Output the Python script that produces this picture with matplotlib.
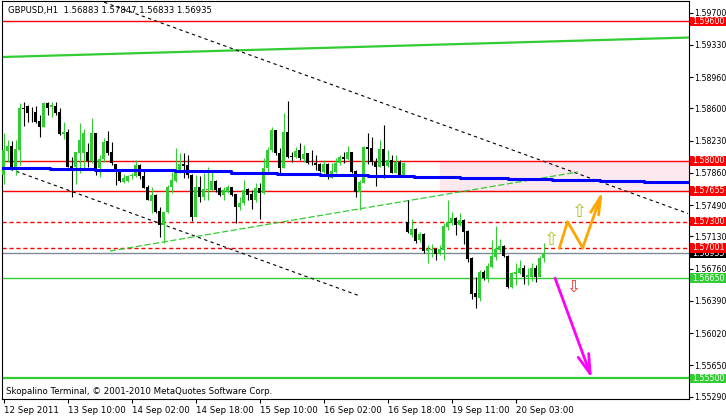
import matplotlib
matplotlib.use("Agg")
import matplotlib.pyplot as plt
import matplotlib.transforms as mtransforms
from matplotlib.patches import Rectangle

plt.rcParams['font.family'] = 'DejaVu Sans'

# Velas H1 GBPUSD (apertura, maximo, minimo, cierre), una por barra
opens = [1.57835, 1.58111, 1.58169, 1.57924, 1.58123, 1.58601, 1.58632, 1.58563, 1.58555, 1.58456,
         1.58391, 1.58659, 1.58613, 1.58628, 1.58555, 1.58303, 1.58333, 1.57939, 1.57924, 1.58092,
         1.58085, 1.58104, 1.57996, 1.58322, 1.57912, 1.58016, 1.58226, 1.58104, 1.57962, 1.57893,
         1.57759, 1.57770, 1.57828, 1.57828, 1.57950, 1.57824, 1.57694, 1.57540, 1.57606, 1.57422,
         1.57261, 1.57406, 1.57694, 1.57770, 1.57874, 1.57958, 1.57950, 1.57835, 1.57357, 1.57694,
         1.57586, 1.57663, 1.57663, 1.57770, 1.57690, 1.57606, 1.57644, 1.57694, 1.57617, 1.57472,
         1.57510, 1.57675, 1.57617, 1.57548, 1.57690, 1.57625, 1.57912, 1.58123, 1.58352, 1.58092,
         1.57920, 1.58333, 1.58054, 1.58046, 1.58123, 1.58019, 1.58092, 1.57977, 1.57970, 1.57962,
         1.57866, 1.57962, 1.57805, 1.57874, 1.57970, 1.58046, 1.58019, 1.58104, 1.57881, 1.57644,
         1.57747, 1.58161, 1.58142, 1.57989, 1.57931, 1.58130, 1.57939, 1.58008, 1.57862, 1.57989,
         1.57835, 1.57300, 1.57147, 1.57216, 1.57090, 1.57159, 1.56963, 1.56975, 1.56986, 1.56929,
         1.56975, 1.57243, 1.57289, 1.57346, 1.57262, 1.57319, 1.57193, 1.56879, 1.56477, 1.56419,
         1.56718, 1.56649, 1.56776, 1.56898, 1.56975, 1.57021, 1.56906, 1.56546, 1.56699, 1.56707,
         1.56772, 1.56668, 1.56668, 1.56772, 1.56668, 1.56883]
highs = [1.58322, 1.58238, 1.58226, 1.58238, 1.58659, 1.58678, 1.58640, 1.58621, 1.58632, 1.58525,
         1.58678, 1.58678, 1.58678, 1.58678, 1.58601, 1.58448, 1.58360, 1.58046, 1.58104, 1.58437,
         1.58360, 1.58199, 1.58486, 1.58322, 1.58065, 1.58257, 1.58341, 1.58218, 1.57962, 1.57893,
         1.57847, 1.57835, 1.57855, 1.58008, 1.57962, 1.57893, 1.57720, 1.57701, 1.57617, 1.57472,
         1.57414, 1.57720, 1.57874, 1.58142, 1.58085, 1.58092, 1.58065, 1.57843, 1.57835, 1.57824,
         1.57855, 1.57924, 1.57893, 1.57778, 1.57701, 1.57701, 1.57720, 1.57701, 1.57617, 1.57586,
         1.57778, 1.57682, 1.57663, 1.57740, 1.57740, 1.58035, 1.58161, 1.58391, 1.58352, 1.58142,
         1.58552, 1.58690, 1.58104, 1.58161, 1.58207, 1.58180, 1.58092, 1.58123, 1.58065, 1.57970,
         1.58008, 1.57970, 1.57970, 1.58027, 1.58065, 1.58104, 1.58169, 1.58104, 1.57893, 1.57778,
         1.58169, 1.58314, 1.58276, 1.58027, 1.58238, 1.58410, 1.58123, 1.58065, 1.58065, 1.58008,
         1.57989, 1.57549, 1.57327, 1.57224, 1.57185, 1.57166, 1.57032, 1.57044, 1.56994, 1.57032,
         1.57289, 1.57549, 1.57415, 1.57358, 1.57396, 1.57327, 1.57205, 1.56890, 1.56661, 1.56745,
         1.56745, 1.56822, 1.57090, 1.57250, 1.57097, 1.57032, 1.56917, 1.56726, 1.56822, 1.56860,
         1.56802, 1.56764, 1.56822, 1.56802, 1.56906, 1.57051]
lows = [1.57728, 1.57989, 1.57893, 1.57835, 1.57950, 1.58398, 1.58448, 1.58448, 1.58429, 1.58276,
        1.58391, 1.58525, 1.58498, 1.58525, 1.58295, 1.58245, 1.57924, 1.57586, 1.57728, 1.57855,
        1.57912, 1.57931, 1.57977, 1.57835, 1.57809, 1.57989, 1.58065, 1.57950, 1.57720, 1.57759,
        1.57740, 1.57759, 1.57786, 1.57816, 1.57786, 1.57682, 1.57548, 1.57403, 1.57395, 1.57127,
        1.57051, 1.57395, 1.57625, 1.57759, 1.57855, 1.57797, 1.57797, 1.57311, 1.57349, 1.57529,
        1.57548, 1.57548, 1.57652, 1.57644, 1.57594, 1.57548, 1.57625, 1.57594, 1.57288, 1.57433,
        1.57491, 1.57548, 1.57445, 1.57529, 1.57334, 1.57613, 1.57855, 1.58104, 1.58065, 1.57855,
        1.57912, 1.58035, 1.57989, 1.58027, 1.58008, 1.57989, 1.57958, 1.57950, 1.57893, 1.57874,
        1.57855, 1.57789, 1.57797, 1.57862, 1.57950, 1.57970, 1.58008, 1.57855, 1.57579, 1.57433,
        1.57740, 1.57962, 1.57950, 1.57713, 1.57924, 1.57797, 1.57924, 1.57855, 1.57855, 1.57824,
        1.57824, 1.57174, 1.57128, 1.57051, 1.57070, 1.56944, 1.56829, 1.56898, 1.56860, 1.56917,
        1.56860, 1.57205, 1.57262, 1.57147, 1.57250, 1.57044, 1.56841, 1.56408, 1.56312, 1.56393,
        1.56630, 1.56611, 1.56764, 1.56860, 1.56956, 1.56890, 1.56534, 1.56534, 1.56573, 1.56695,
        1.56584, 1.56573, 1.56622, 1.56611, 1.56661, 1.56833]
closes = [1.58123, 1.58169, 1.57924, 1.58130, 1.58601, 1.58594, 1.58544, 1.58555, 1.58448, 1.58391,
          1.58659, 1.58609, 1.58640, 1.58552, 1.58303, 1.58333, 1.57931, 1.57912, 1.58104, 1.58238,
          1.58314, 1.58000, 1.58322, 1.57905, 1.58019, 1.58218, 1.58092, 1.57970, 1.57874, 1.57770,
          1.57797, 1.57828, 1.57835, 1.57950, 1.57824, 1.57690, 1.57548, 1.57606, 1.57414, 1.57261,
          1.57414, 1.57701, 1.57778, 1.57874, 1.57962, 1.57939, 1.57835, 1.57357, 1.57701, 1.57586,
          1.57671, 1.57675, 1.57770, 1.57663, 1.57606, 1.57663, 1.57701, 1.57606, 1.57464, 1.57518,
          1.57663, 1.57606, 1.57548, 1.57690, 1.57625, 1.57920, 1.58123, 1.58352, 1.58085, 1.57920,
          1.58333, 1.58046, 1.58046, 1.58111, 1.58027, 1.58073, 1.57970, 1.57970, 1.57950, 1.57881,
          1.57962, 1.57809, 1.57885, 1.57970, 1.58046, 1.58019, 1.58104, 1.57874, 1.57644, 1.57751,
          1.58161, 1.58130, 1.57981, 1.57931, 1.58130, 1.57939, 1.58008, 1.57862, 1.57989, 1.57835,
          1.57977, 1.57185, 1.57216, 1.57082, 1.57159, 1.56963, 1.56986, 1.56986, 1.56929, 1.56986,
          1.57250, 1.57293, 1.57346, 1.57262, 1.57319, 1.57185, 1.56871, 1.56469, 1.56431, 1.56718,
          1.56649, 1.56791, 1.56906, 1.56986, 1.57021, 1.56906, 1.56546, 1.56707, 1.56722, 1.56772,
          1.56668, 1.56688, 1.56772, 1.56668, 1.56887, 1.56935]

# Etiquetas de tiempo (cada 16 barras)
time_labels = ["12 Sep 2011", "13 Sep 10:00", "14 Sep 02:00", "14 Sep 18:00", "15 Sep 10:00",
               "16 Sep 02:00", "16 Sep 18:00", "19 Sep 11:00", "20 Sep 03:00"]
time_bars = [0, 16, 32, 48, 64, 80, 96, 112, 128]
price_ticks = [1.59700, 1.59330, 1.58960, 1.58600, 1.58230, 1.57860, 1.57490,
               1.57130, 1.56760, 1.56390, 1.56020, 1.55650, 1.55290]

# Niveles horizontales
red_levels = [1.59600, 1.58000, 1.57655]
red_dash_levels = [1.57300, 1.57001]
support_level = 1.56650
target_level = 1.55500
bid_price = 1.56935
zone_start = 109  # zona rosa entre 1.58000 y 1.57655

# Media movil (escalones) y lineas de tendencia
ma_bars = [-0.4, 11.6, 22.9, 42.9, 56.9, 68.4, 79.1, 91.1, 102.6, 114, 126, 137, 149, 160, 171.4]
ma_vals = [1.57920, 1.57909, 1.57894, 1.57879, 1.57863, 1.57848, 1.57836, 1.57825,
           1.57813, 1.57802, 1.57790, 1.57779, 1.57768, 1.57756, 1.57756]
top_trend_bars = [-0.4, 171.4]
top_trend_vals = [1.59191, 1.59415]
chan_up_bars = [23.6, 171.1]
chan_up_vals = [1.59846, 1.57394]
chan_low_bars = [1.6, 89.1]
chan_low_vals = [1.57905, 1.56447]
green_trend_bars = [26.6, 143.6]
green_trend_vals = [1.56963, 1.57871]

# Escenarios dibujados
orange_bars = [139, 141, 144.8, 149.8]
orange_vals = [1.57001, 1.57300, 1.57001, 1.57655]
magenta_bars = [137.9, 147.1]
magenta_vals = [1.56650, 1.55500]
up_arrows_bars = [137.0, 143.95]
up_arrows_vals = [1.57090, 1.57408]
down_arrow_bar = 142.45
down_arrow_val = 1.56553

# Etiquetas de precio en el eje derecho
box_vals = [1.59600, 1.58000, 1.57655, 1.57300, 1.56935, 1.57001, 1.56650, 1.55500]
box_colors = ['#ff0000', '#ff0000', '#ff0000', '#ff0000', '#000000', '#ff0000', '#32cd32', '#32cd32']

green = '#32cd32'
fs_axis = 5.7

fig = plt.figure(figsize=(7.26, 4.16), dpi=100)
ax = fig.add_axes([2 / 726, 17 / 416, 687 / 726, 398 / 416])
ax.set_xlim(-0.375, 171.375)
ax.set_ylim(1.552637, 1.598344)

# zona y niveles
ax.axhspan(red_levels[2], red_levels[1], xmin=(zone_start + 0.375) / 171.75, xmax=1,
           color='#fce8ef', zorder=0)
for lvl in red_levels:
    ax.axhline(lvl, color='red', lw=1, zorder=1)
for lvl in red_dash_levels:
    ax.axhline(lvl, color='red', lw=1, ls=(0, (3, 2)), zorder=1)
ax.axhline(bid_price, color='#7f8c99', lw=1, zorder=1)
ax.axhline(support_level, color=green, lw=1, zorder=1)
ax.axhline(target_level, color=green, lw=1.6, zorder=1)

ax.plot(top_trend_bars, top_trend_vals, color=green, lw=1.6, zorder=1)
ax.plot(chan_up_bars, chan_up_vals, color='black', lw=0.8, ls=(0, (3, 3)), zorder=1)
ax.plot(chan_low_bars, chan_low_vals, color='black', lw=0.8, ls=(0, (3, 3)), zorder=1)
ax.plot(green_trend_bars, green_trend_vals, color=green, lw=0.9, ls=(0, (5, 2)), zorder=1)

# velas
xs = list(range(len(opens)))
colors = [green if c >= o else 'black' for o, c in zip(opens, closes)]
ax.vlines(xs, lows, highs, colors=colors, lw=0.8, zorder=2)
bottoms = [min(o, c) for o, c in zip(opens, closes)]
heights = [max(abs(c - o), 0.00003) for o, c in zip(opens, closes)]
ax.bar(xs, heights, width=0.65, bottom=bottoms, color=colors, linewidth=0, zorder=3)

ax.step(ma_bars, ma_vals, where='post', color='#0000ff', lw=2.2, zorder=4)

# escenarios
ax.plot(orange_bars[:-1], orange_vals[:-1], color='#ffa500', lw=2, zorder=5)
ax.annotate('', xy=(orange_bars[-1], orange_vals[-1]), xytext=(orange_bars[-2], orange_vals[-2]),
            arrowprops=dict(arrowstyle='->,head_length=1.3,head_width=0.3', color='#ffa500',
                            lw=2, shrinkA=0, shrinkB=0), zorder=5)
ax.annotate('', xy=(magenta_bars[1], magenta_vals[1]), xytext=(magenta_bars[0], magenta_vals[0]),
            arrowprops=dict(arrowstyle='->,head_length=1.4,head_width=0.4', color='#ff00ff',
                            lw=2, shrinkA=0, shrinkB=0), zorder=5)
for b, v in zip(up_arrows_bars, up_arrows_vals):
    ax.text(b, v, '\u21e7', color='#a8c820', fontsize=13, ha='center', va='center', zorder=6)
ax.text(down_arrow_bar, down_arrow_val, '\u21e9', color='#ff3030', fontsize=12,
        ha='center', va='center', zorder=6)

# ejes
for s in ax.spines.values():
    s.set_color('black')
    s.set_linewidth(0.8)
ax.yaxis.tick_right()
ax.set_yticks(price_ticks)
ax.set_yticklabels([f"{v:.5f}" for v in price_ticks])
ax.tick_params(axis='y', length=3, width=0.8, labelsize=fs_axis, pad=1)
ax.set_xticks(time_bars)
ax.set_xticklabels(time_labels)
ax.tick_params(axis='x', length=3, width=0.8, labelsize=6.2, pad=2)
for lbl in ax.get_xticklabels():
    lbl.set_ha('left')

# cajas de precio a la derecha
trans = mtransforms.blended_transform_factory(fig.transFigure, ax.transData)
box_h = 0.0011
for v, c in zip(box_vals, box_colors):
    fig.add_artist(Rectangle((690 / 726, v - box_h / 2), 36 / 726, box_h, transform=trans,
                             facecolor=c, edgecolor='none', clip_on=False, zorder=10))
    t = fig.text(692 / 726, v, f"{v:.5f}", transform=trans, color='white', fontsize=fs_axis,
                 va='center', ha='left', zorder=11)
    if c == '#000000':
        # la caja del bid queda casi tapada por la de 1.57001
        clip = mtransforms.TransformedBbox(
            mtransforms.Bbox([[690 / 726, v - box_h / 2], [1, 1.57001 - box_h / 2]]), trans)
        t.set_clip_box(clip)
        t.set_clip_on(True)

ax.text(6 / 687, 1 - 9 / 398, "GBPUSD,H1  1.56883 1.57847 1.56833 1.56935", transform=ax.transAxes,
        fontsize=6.1, va='center', ha='left', zorder=8)
ax.text(4 / 687, 8 / 398, "Skopalino Terminal, \u00a9 2001-2010 MetaQuotes Software Corp.",
        transform=ax.transAxes, fontsize=6.2, va='center', ha='left', zorder=8)

fig.savefig("out.png", dpi=100, facecolor='white')
